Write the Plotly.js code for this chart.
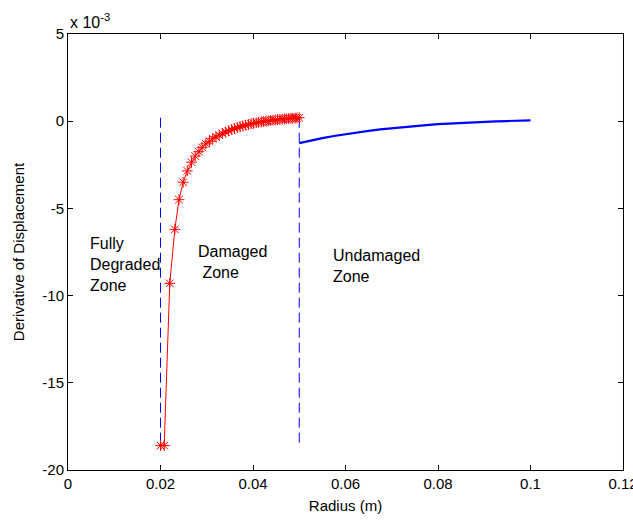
<!DOCTYPE html>
<html>
<head>
<meta charset="utf-8">
<script src="https://cdn.plot.ly/plotly-3.0.1.min.js"></script>
<style>html,body{margin:0;padding:0;background:#fff;}#chart{width:633px;height:524px;}</style>
</head>
<body>
<div id="chart"></div>
<script>
// Damaged zone (red, stars) — radius in m, derivative in units of 1e-3
var damagedRadius = [0.0200,0.0208,0.0220,0.0231,0.0240,0.0249,0.0258,0.0267,0.0275,0.0283,0.0290,0.0298,0.0306,0.0313,0.0320,0.0327,0.0334,0.0341,0.0347,0.0354,0.0360,0.0366,0.0372,0.0378,0.0384,0.0390,0.0396,0.0401,0.0407,0.0412,0.0418,0.0423,0.0428,0.0433,0.0438,0.0443,0.0448,0.0453,0.0458,0.0463,0.0468,0.0472,0.0477,0.0482,0.0486,0.0491,0.0495,0.0500];
var damagedDeriv = [-18.6,-18.6,-9.3,-6.2,-4.5,-3.5,-2.85,-2.35,-2.0,-1.75,-1.5,-1.3,-1.15,-1.0,-0.9,-0.8,-0.7,-0.62,-0.55,-0.48,-0.42,-0.37,-0.32,-0.27,-0.23,-0.19,-0.15,-0.12,-0.09,-0.06,-0.04,-0.02,0.0,0.02,0.04,0.06,0.07,0.09,0.10,0.11,0.13,0.14,0.15,0.16,0.17,0.18,0.19,0.20];

// Undamaged zone (blue solid)
var undamagedRadius = [0.0500,0.0525,0.0550,0.0575,0.0600,0.0625,0.0650,0.0675,0.0700,0.0725,0.0750,0.0775,0.0800,0.0825,0.0850,0.0875,0.0900,0.0925,0.0950,0.0975,0.1000];
var undamagedDeriv = [-1.26,-1.10,-0.97,-0.85,-0.74,-0.64,-0.55,-0.47,-0.40,-0.33,-0.27,-0.22,-0.17,-0.13,-0.09,-0.06,-0.03,-0.01,0.01,0.03,0.05];

// Zone boundaries (blue dashed)
var boundaryRadius = [0.02, 0.05];
var boundaryDeriv = [0.2, -18.6];

// Zone labels
var zoneLabels = ["Fully<br>Degraded<br>Zone", "Damaged<br> Zone", "Undamaged<br>Zone"];
var zoneLabelX = [0.0044, 0.0276, 0.0568];
var zoneLabelY = [-8.2, -8.1, -8.3];

var xTicks = [0, 0.02, 0.04, 0.06, 0.08, 0.1, 0.12];
var xTickText = ["0", "0.02", "0.04", "0.06", "0.08", "0.1", "0.12"];
var yTicks = [-20, -15, -10, -5, 0, 5];
var yTickText = ["-20", "-15", "-10", "-5", "0", "5"];

var FONT = "Liberation Sans, Arial, sans-serif";

var traces = [];
boundaryRadius.forEach(function (r) {
  traces.push({
    x: [r, r], y: boundaryDeriv, mode: "lines", type: "scatter",
    line: {color: "#0000ff", width: 1, dash: "10px,5px"}, hoverinfo: "skip", showlegend: false
  });
});
traces.push({
  x: damagedRadius, y: damagedDeriv, mode: "lines+markers", type: "scatter",
  line: {color: "#ff0000", width: 1},
  marker: {symbol: "asterisk-open", size: 9, color: "#ff0000", line: {color: "#ff0000", width: 1}},
  showlegend: false
});
traces.push({
  x: undamagedRadius, y: undamagedDeriv, mode: "lines", type: "scatter",
  line: {color: "#0000ff", width: 2.2}, showlegend: false
});

var annotations = zoneLabels.map(function (t, i) {
  return {x: zoneLabelX[i], y: zoneLabelY[i], xref: "x", yref: "y", text: t, showarrow: false,
    xanchor: "left", yanchor: "middle", align: "left", font: {family: FONT, size: 16, color: "#000"}};
});
annotations.push({x: 0, y: 1, xref: "paper", yref: "paper", xanchor: "left", yanchor: "bottom",
  yshift: 1, xshift: 0, showarrow: false, text: "x 10<sup>-3</sup>", font: {family: FONT, size: 16, color: "#000"}});

var axisCommon = {
  showline: true, linecolor: "#000", linewidth: 1, mirror: "ticks",
  ticks: "inside", ticklen: 5, tickcolor: "#000", tickwidth: 1,
  showgrid: false, zeroline: false, tickmode: "array", ticklabeloverflow: "allow",
  tickfont: {family: FONT, size: 15, color: "#000"}
};

var layout = {
  width: 633, height: 524,
  margin: {l: 68, r: 10, t: 34, b: 54},
  paper_bgcolor: "#fff", plot_bgcolor: "#fff",
  font: {family: FONT, size: 15, color: "#000"},
  xaxis: Object.assign({}, axisCommon, {
    range: [0, 0.12], tickvals: xTicks, ticktext: xTickText,
    title: {text: "Radius (m)", font: {family: FONT, size: 15, color: "#000"}, standoff: 9}
  }),
  yaxis: Object.assign({}, axisCommon, {
    range: [-20, 5], tickvals: yTicks, ticktext: yTickText,
    title: {text: "Derivative of Displacement", font: {family: FONT, size: 15, color: "#000"}, standoff: 14}
  }),
  annotations: annotations,
  showlegend: false
};

Plotly.newPlot("chart", traces, layout, {staticPlot: true, displayModeBar: false});
</script>
</body>
</html>
